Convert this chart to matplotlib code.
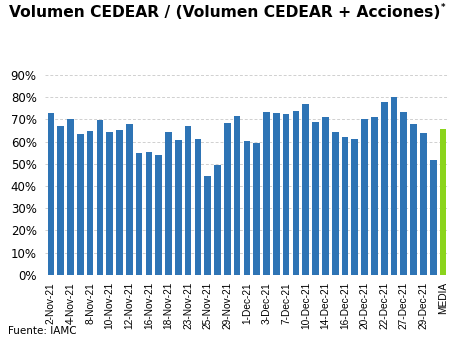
import matplotlib.pyplot as plt
from matplotlib.ticker import PercentFormatter

# Trading days Nov-Dec 2021 (every other one gets a label)
dates = ["2-Nov-21", "3-Nov-21", "4-Nov-21", "5-Nov-21", "8-Nov-21", "9-Nov-21",
         "10-Nov-21", "11-Nov-21", "12-Nov-21", "15-Nov-21", "16-Nov-21", "17-Nov-21",
         "18-Nov-21", "19-Nov-21", "23-Nov-21", "24-Nov-21", "25-Nov-21", "26-Nov-21",
         "29-Nov-21", "30-Nov-21", "1-Dec-21", "2-Dec-21", "3-Dec-21", "6-Dec-21",
         "7-Dec-21", "9-Dec-21", "10-Dec-21", "13-Dec-21", "14-Dec-21", "15-Dec-21",
         "16-Dec-21", "17-Dec-21", "20-Dec-21", "21-Dec-21", "22-Dec-21", "23-Dec-21",
         "27-Dec-21", "28-Dec-21", "29-Dec-21", "30-Dec-21"]
ratio = [72.7, 66.9, 70.3, 63.4, 64.9, 69.9, 64.3, 65.4, 67.8, 54.7,
         55.3, 54.1, 64.3, 60.7, 66.9, 61.0, 44.5, 49.3, 68.5, 71.7,
         60.4, 59.5, 73.5, 73.0, 72.3, 73.9, 76.8, 69.0, 71.0, 64.2,
         62.0, 61.0, 70.0, 71.0, 77.7, 80.2, 73.2, 67.8, 64.0, 51.9]
media_label = "MEDIA"
media = 65.7

blue = "#2E74B5"
green = "#8BD41C"

labels = dates + [media_label]
values = ratio + [media]
colors = [blue] * len(ratio) + [green]

fig = plt.figure(figsize=(4.74, 3.45), dpi=100)
ax = fig.add_axes([0.095, 0.203, 0.852, 0.580])

x = range(len(values))
ax.bar(x, values, width=0.68, color=colors, zorder=3)

ax.set_xlim(-0.6, len(values) - 0.4)
ax.set_ylim(0, 90)
ax.set_yticks(range(0, 100, 10))
ax.yaxis.set_major_formatter(PercentFormatter(decimals=0))
ax.grid(axis="y", color="#d0d0d0", linestyle=(0, (3, 2)), linewidth=0.7, zorder=0)

# label every other bar, plus MEDIA
tick_pos = list(range(0, len(dates), 2)) + [len(values) - 1]
ax.set_xticks(tick_pos)
ax.set_xticklabels([labels[i] for i in tick_pos], rotation=90, fontsize=7.3,
                   family=["Liberation Sans Narrow", "Liberation Sans", "DejaVu Sans"])
ax.tick_params(axis="y", labelsize=8.5, length=0, pad=6)
ax.tick_params(axis="x", length=0, pad=5)
for s in ax.spines.values():
    s.set_visible(False)

fig.text(0.02, 0.963, "Volumen CEDEAR / (Volumen CEDEAR + Acciones)",
         fontsize=11.2, fontweight="bold", ha="left", va="center")
fig.text(0.929, 0.978, "*", fontsize=6, fontweight="bold", ha="left", va="center")
fig.text(0.017, 0.04, "Fuente: IAMC", fontsize=7.5, ha="left", va="center")

fig.savefig("out.png", dpi=100)
